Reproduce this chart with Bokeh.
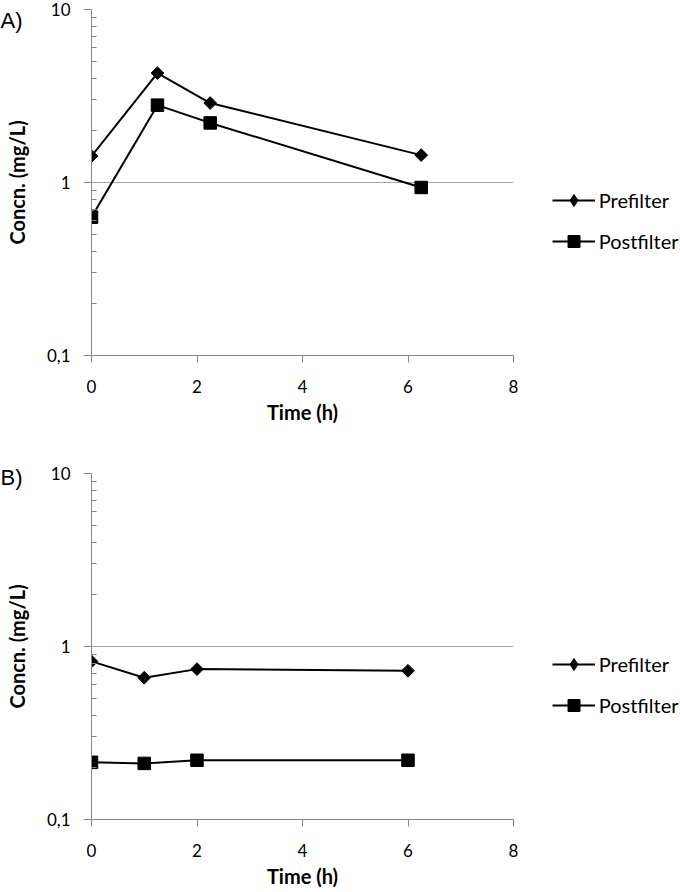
import math
import numpy as np
from bokeh.plotting import figure
from bokeh.models import (Range1d, FixedTicker, CustomJSTickFormatter, Legend,
                          LegendItem, Label)
from bokeh.layouts import column
from bokeh.embed import file_html
from bokeh.resources import INLINE

# ---- data ----
time_a = [0, 1.25, 2.25, 6.25]
pre_a = [1.42, 4.29, 2.88, 1.44]
post_a = [0.63, 2.80, 2.21, 0.936]

time_b = [0, 1, 2, 6]
pre_b = [0.82, 0.66, 0.74, 0.724]
post_b = [0.214, 0.211, 0.22, 0.22]

panel_labels = ["A)", "B)"]
series_names = ["Prefilter", "Postfilter"]
x_ticks = [0, 2, 4, 6, 8]
y_ticks = [0.1, 1, 10]
y_tick_labels = ["0,1", "1", "10"]
x_title = "Time (h)"
y_title = "Concn. (mg/L)"

FONT = "Lato"
AXIS_GREY = "#868686"
GRID_GREY = "#a6a6a6"

FRAME_W = 422
FRAME_H = 346
LEFT = 91
FIG_W = 680
X_MAX = 8

minor = [k * 10 ** e for e in (-1, 0) for k in range(2, 10)]


def make_panel(t, pre, post, label, top_border, bottom_border, label_y):
    p = figure(frame_width=FRAME_W, frame_height=FRAME_H,
               y_axis_type="log", x_range=Range1d(0, X_MAX), y_range=Range1d(0.1, 10),
               output_backend="svg", toolbar_location=None,
               min_border_left=LEFT, min_border_right=FIG_W - LEFT - FRAME_W,
               min_border_top=top_border, min_border_bottom=bottom_border)
    p.outline_line_color = None
    p.background_fill_color = "white"
    p.border_fill_color = "white"

    p.xgrid.visible = False
    p.ygrid.grid_line_color = GRID_GREY
    p.ygrid.grid_line_width = 1

    # axes
    p.xaxis.ticker = FixedTicker(ticks=x_ticks)
    p.yaxis.ticker = FixedTicker(ticks=y_ticks, minor_ticks=minor)
    p.yaxis.formatter = CustomJSTickFormatter(args=dict(t=y_ticks, l=y_tick_labels), code="""
        let best = 0;
        for (let i = 0; i < t.length; i++) {
            if (Math.abs(Math.log10(tick) - Math.log10(t[i])) <
                Math.abs(Math.log10(tick) - Math.log10(t[best]))) best = i;
        }
        return l[best];
    """)
    for ax in (p.xaxis, p.yaxis):
        ax.axis_line_color = AXIS_GREY
        ax.axis_line_width = 1
        ax.major_tick_line_color = AXIS_GREY
        ax.minor_tick_line_color = AXIS_GREY
        ax.major_tick_in = 0
        ax.major_label_text_font = FONT
        ax.major_label_text_font_size = "17px"
        ax.major_label_text_color = "black"
        ax.axis_label_text_font = FONT
        ax.axis_label_text_font_size = "20px"
        ax.axis_label_text_font_style = "bold"
        ax.axis_label_text_color = "black"
    p.xaxis.major_tick_out = 7
    p.xaxis.minor_tick_in = 0
    p.xaxis.minor_tick_out = 0
    p.xaxis.major_label_standoff = 17
    p.xaxis.axis_label = x_title
    p.xaxis.axis_label_standoff = 4

    p.yaxis.major_tick_out = 8
    p.yaxis.minor_tick_in = 5
    p.yaxis.minor_tick_out = 0
    p.yaxis.major_label_standoff = 13
    p.yaxis.axis_label = y_title
    p.yaxis.axis_label_standoff = 15

    # series
    l1 = p.line(t, pre, line_color="black", line_width=2)
    p.scatter(t, pre, marker="square", angle=math.pi / 4, size=9,
              fill_color="black", line_color="black")
    l2 = p.line(t, post, line_color="black", line_width=2)
    m2 = p.scatter(t, post, marker="square", size=12.5,
                   fill_color="black", line_color="black")
    # legend-only diamond (the legend does not rotate markers); NaN -> not drawn in plot
    d1 = p.scatter(x=np.array([np.nan]), y=np.array([np.nan]), marker="diamond",
                   size=13, fill_color="black", line_color="black")

    legend = Legend(items=[LegendItem(label=series_names[0], renderers=[l1, d1]),
                           LegendItem(label=series_names[1], renderers=[l2, m2])],
                    location=(38.7, 99.5), orientation="vertical",
                    glyph_width=43, glyph_height=30, label_height=30,
                    label_standoff=4, spacing=11, padding=0, margin=0,
                    border_line_color=None, background_fill_alpha=0,
                    label_text_font=FONT, label_text_font_size="20px",
                    label_text_color="black")
    p.add_layout(legend, "right")

    # panel letter, placed at the page's left edge (x in data units of the frame)
    p.add_layout(Label(x=-LEFT * X_MAX / FRAME_W, y=label_y, x_units="data", y_units="screen",
                       text=label, text_font="Liberation Sans", text_font_size="22px",
                       text_baseline="middle", text_align="left", text_color="black"),
                 "right")
    return p


pa = make_panel(time_a, pre_a, post_a, panel_labels[0], 9, 75, FRAME_H - 11)
pb = make_panel(time_b, pre_b, post_b, panel_labels[1], 43, 72, FRAME_H - 4)

layout = column(pa, pb, spacing=0)
open("out.html", "w").write(file_html(layout, INLINE))
